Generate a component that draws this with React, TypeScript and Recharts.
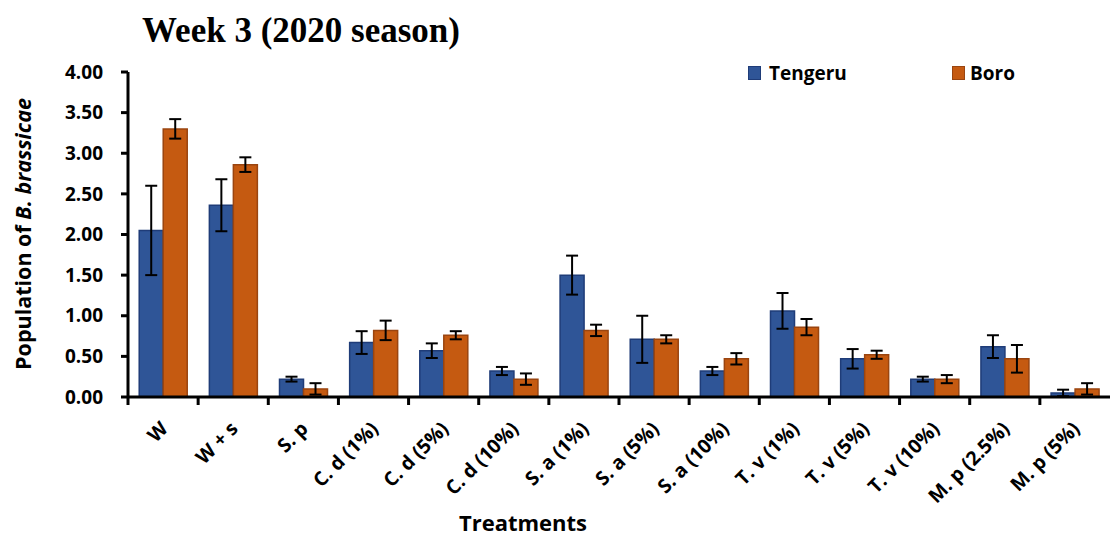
import React from 'react';
import { BarChart, Bar, XAxis, YAxis, ErrorBar } from 'recharts';

const categories = ['W', 'W + s', 'S. p', 'C. d (1%)', 'C. d (5%)', 'C. d (10%)', 'S. a (1%)', 'S. a (5%)', 'S. a (10%)', 'T. v (1%)', 'T. v (5%)', 'T. v (10%)', 'M. p (2.5%)', 'M. p (5%)'];
const tengeru = [2.05, 2.36, 0.22, 0.67, 0.57, 0.32, 1.5, 0.71, 0.32, 1.06, 0.47, 0.22, 0.62, 0.05];
const tengeruErr = [0.55, 0.32, 0.03, 0.14, 0.09, 0.05, 0.24, 0.29, 0.05, 0.22, 0.12, 0.03, 0.14, 0.04];
const boro = [3.3, 2.86, 0.1, 0.82, 0.76, 0.22, 0.82, 0.71, 0.47, 0.86, 0.52, 0.22, 0.47, 0.1];
const boroErr = [0.12, 0.09, 0.07, 0.12, 0.05, 0.07, 0.07, 0.05, 0.07, 0.1, 0.05, 0.05, 0.17, 0.07];
const yTicks = [0, 0.5, 1, 1.5, 2, 2.5, 3, 3.5, 4];
const seriesNames = ['Tengeru', 'Boro'];

const data = categories.map((c, i) => ({
  name: c,
  tengeru: tengeru[i],
  tErr: tengeruErr[i],
  boro: boro[i],
  bErr: boroErr[i],
}));

const W = 1118;
const H = 538;
const M = { top: 72, right: 8, bottom: 0, left: 68 };
const Y_W = 60;
const X_H = 141;
const plotW = W - M.left - M.right - Y_W;
const band = plotW / categories.length;

const FONT = '"Open Sans", "Noto Sans", sans-serif';
const BLUE = '#2F5597';
const BLUE_D = '#1F3C78';
const ORANGE = '#C55A11';
const ORANGE_D = '#9A4510';

const XTick = (props: any) => {
  const { x, y, payload } = props;
  const ax = x + 6;
  const ay = y + 33;
  return (
    <g>
      <line x1={x - band / 2} y1={y} x2={x - band / 2} y2={y + 8} stroke="#000" strokeWidth={3} />
      <g transform={`translate(${ax} ${ay}) rotate(-45)`}>
        <text x={0} y={0} textAnchor="end" fontFamily={FONT} fontWeight={700} fontSize={19.5} fill="#000">
          {payload.value}
        </text>
      </g>
    </g>
  );
};

export default function App() {
  return (
    <div style={{ position: 'absolute', left: 0, top: 0, width: W, height: H, background: '#fff', overflow: 'hidden' }}>
      <BarChart width={W} height={H} data={data} margin={M} barCategoryGap="16%" barGap={0}>
        <XAxis
          dataKey="name"
          height={X_H}
          interval={0}
          tick={<XTick />}
          tickLine={false}
          tickSize={0}
          tickMargin={0}
          axisLine={{ stroke: '#000', strokeWidth: 3 }}
        />
        <YAxis
          width={Y_W}
          domain={[0, 4]}
          ticks={yTicks}
          interval={0}
          tickFormatter={(v: number) => v.toFixed(2)}
          tickSize={7}
          tickMargin={18}
          tick={{ fontFamily: FONT, fontWeight: 700, fontSize: 19, fill: '#000' }}
          axisLine={{ stroke: '#000', strokeWidth: 3 }}
          tickLine={{ stroke: '#000', strokeWidth: 3 }}
        />
        <Bar dataKey="tengeru" name={seriesNames[0]} fill={BLUE} stroke={BLUE_D} strokeWidth={1.5} isAnimationActive={false}>
          <ErrorBar dataKey="tErr" width={6} stroke="#000" strokeWidth={2} />
        </Bar>
        <Bar dataKey="boro" name={seriesNames[1]} fill={ORANGE} stroke={ORANGE_D} strokeWidth={1.5} isAnimationActive={false}>
          <ErrorBar dataKey="bErr" width={6} stroke="#000" strokeWidth={2} />
        </Bar>
      </BarChart>
      <div style={{ position: 'absolute', left: 748, top: 61, width: 320, height: 24, fontFamily: FONT, fontWeight: 700, fontSize: 19, color: '#000' }}>
        <div style={{ position: 'absolute', left: 0, top: 5, width: 11, height: 12, background: BLUE, border: `1px solid ${BLUE_D}` }} />
        <div style={{ position: 'absolute', left: 21, top: 0, lineHeight: '24px' }}>{seriesNames[0]}</div>
        <div style={{ position: 'absolute', left: 204, top: 5, width: 11, height: 12, background: ORANGE, border: `1px solid ${ORANGE_D}` }} />
        <div style={{ position: 'absolute', left: 222, top: 0, lineHeight: '24px' }}>{seriesNames[1]}</div>
      </div>
      <div style={{ position: 'absolute', left: 101, top: 12, width: 400, textAlign: 'center', whiteSpace: 'nowrap', lineHeight: '38px', fontFamily: '"Liberation Serif", "Times New Roman", serif', fontWeight: 700, fontSize: 35, color: '#000' }}>
        Week 3 (2020 season)
      </div>
      <div style={{ position: 'absolute', left: 23, top: 234, width: 0, height: 0 }}>
        <div style={{ position: 'absolute', transform: 'translate(-50%, -50%) rotate(-90deg)', whiteSpace: 'nowrap', lineHeight: '30px', fontFamily: FONT, fontWeight: 700, fontSize: 21.5, color: '#000' }}>
          Population of <i>B. brassicae</i>
        </div>
      </div>
      <div style={{ position: 'absolute', left: 423, top: 507, width: 200, textAlign: 'center', whiteSpace: 'nowrap', lineHeight: '30px', fontFamily: FONT, fontWeight: 700, fontSize: 22, color: '#000' }}>
        Treatments
      </div>
    </div>
  );
}
